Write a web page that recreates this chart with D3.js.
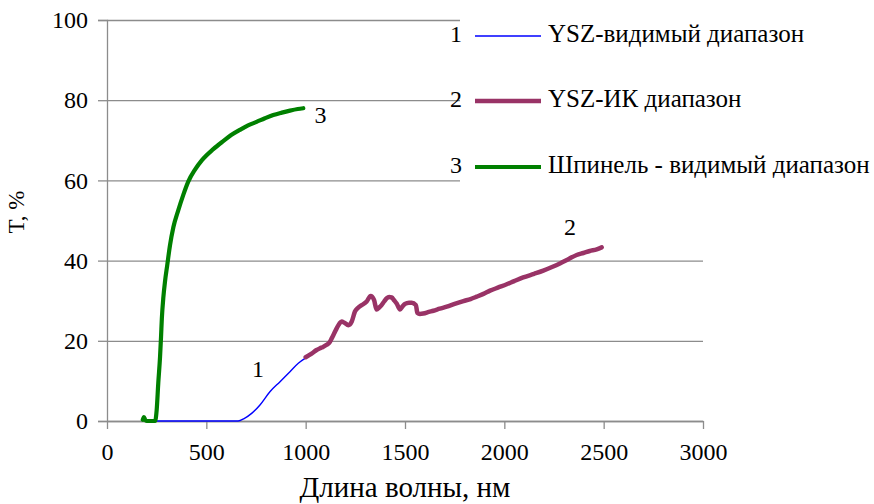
<!DOCTYPE html>
<html>
<head>
<meta charset="utf-8">
<script src="https://cdn.jsdelivr.net/npm/d3@7"></script>
<style>
  body { margin: 0; background: #fff; }
  svg { display: block; }
  svg text { font-family: "Times New Roman", "Liberation Serif", "DejaVu Serif", serif !important; }
</style>
</head>
<body>
<svg id="chart" width="874" height="504"></svg>
<script>
// ---- data ----
const seriesNames = ["YSZ-видимый диапазон", "YSZ-ИК диапазон", "Шпинель - видимый диапазон"];
const seriesNumbers = ["1", "2", "3"];
const seriesColors = ["#0000ff", "#993366", "#008000"];

const ysz_vis_wl = [250, 300, 400, 500, 600, 660, 690, 728, 770, 820, 871, 921, 963, 997];
const ysz_vis_T  = [0, 0, 0, 0, 0, 0, 0.6, 1.9, 4, 7.3, 9.8, 12.3, 14.4, 15.6];

const ysz_ir_wl = [1000,1030,1055,1080,1106,1120,1131,1145,1156,1170,1181,1195,1215,1232,1248,1265,1282,1307,1327,1344,1357,1370,1382,1395,1408,1420,1433,1445,1458,1475,1488,1500,1520,1534,1555,1562,1575,1592,1620,1643,1675,1710,1750,1794,1830,1861,1895,1928,1970,2012,2050,2095,2150,2196,2240,2280,2320,2364,2398,2430,2465,2490];
const ysz_ir_T  = [15.9,16.8,17.7,18.3,19,19.6,20.6,22,23.1,24.3,24.8,24.5,23.9,24.8,27.3,28.3,28.9,29.8,31.2,30.2,27.8,28.3,28.9,29.8,30.6,30.9,30.8,30.1,29.3,27.8,28.6,29.2,29.5,29.5,28.9,27,26.7,26.8,27.2,27.5,28,28.5,29.2,29.9,30.4,31,31.7,32.5,33.3,34.1,34.9,35.8,36.7,37.5,38.4,39.3,40.3,41.4,41.9,42.4,42.8,43.3];

const spinel_wl = [180,186,192,200,242,250,258,267,272,276,284,292,303,317,334,359,384,409,443,477,535,585,625,669,710,753,795,837,880,921,960,988];
const spinel_T  = [0.3,1,0.3,0,0,2.7,9.4,16,21,25.5,31,34.8,38.8,43.8,48.3,52.6,56.4,59.7,62.7,65,67.8,69.8,71.3,72.6,73.7,74.6,75.5,76.3,76.9,77.4,77.8,78];

const xTicks = [0, 500, 1000, 1500, 2000, 2500, 3000];
const yTicks = [0, 20, 40, 60, 80, 100];
const xTitle = "Длина волны, нм";
const yTitle = "T, %";

// curve-label anchors (data coordinates)
const curveLabelText = ["1", "2", "3"];
const curveLabelWl = [760, 2330, 1075];
const curveLabelT  = [12.3, 47.8, 75.6];

// ---- drawing ----
const svg = d3.select("#chart");
const x = d3.scaleLinear().domain([0, 3000]).range([107, 703]);
const y = d3.scaleLinear().domain([0, 100]).range([421, 20]);
const grey = "#8c8c8c";
const fontSize = 24;
const fam = '"Times New Roman", "Liberation Serif", "DejaVu Serif", serif';

// gridlines
const gy = svg.append("g").attr("transform", `translate(${x(0)},0)`)
  .call(d3.axisLeft(y).tickValues(yTicks).tickSize(-(x(3000) - x(0))).tickFormat(""));
gy.select(".domain").remove();
gy.selectAll(".tick line").attr("stroke", grey).attr("stroke-width", 1.3);

// y axis with outer ticks and labels
const ya = svg.append("g").attr("transform", `translate(${x(0)},0)`)
  .call(d3.axisLeft(y).tickValues(yTicks).tickSize(9).tickPadding(10).tickFormat(d3.format("d")));
ya.attr("font-family", fam);
ya.select(".domain").attr("stroke", grey).attr("stroke-width", 1.3);
ya.selectAll(".tick line").attr("stroke", grey).attr("stroke-width", 1.3);
ya.selectAll(".tick text").attr("font-size", fontSize).attr("fill", "#000");

// x axis
const xa = svg.append("g").attr("transform", `translate(0,${y(0)})`)
  .call(d3.axisBottom(x).tickValues(xTicks).tickSize(8).tickPadding(14).tickSizeOuter(0).tickFormat(d3.format("d")));
xa.attr("font-family", fam);
xa.select(".domain").attr("stroke", grey).attr("stroke-width", 1.3);
xa.selectAll(".tick line").attr("stroke", grey).attr("stroke-width", 1.3);
xa.selectAll(".tick text").attr("font-size", fontSize).attr("fill", "#000");

// legend background box covering gridlines
svg.append("rect").attr("x", 460).attr("y", 0).attr("width", 414).attr("height", 200).attr("fill", "#fff");

// series
const line = d3.line().x(d => x(d[0])).y(d => y(d[1])).curve(d3.curveMonotoneX);
const series = [
  { wl: ysz_vis_wl, T: ysz_vis_T, width: 1.4 },
  { wl: ysz_ir_wl, T: ysz_ir_T, width: 4.5 },
  { wl: spinel_wl, T: spinel_T, width: 4.2 }
];
series.forEach((s, i) => {
  svg.append("path")
    .attr("d", line(s.wl.map((w, k) => [w, s.T[k]])))
    .attr("fill", "none")
    .attr("stroke", seriesColors[i])
    .attr("stroke-width", s.width)
    .attr("stroke-linejoin", "round")
    .attr("stroke-linecap", "round");
});

// curve labels
curveLabelText.forEach((t, i) => {
  svg.append("text")
    .attr("x", x(curveLabelWl[i])).attr("y", y(curveLabelT[i]))
    .attr("text-anchor", "middle").attr("dominant-baseline", "middle")
    .attr("font-size", fontSize).attr("fill", "#000").text(t);
});

// legend
const legendY = [36, 101, 167];
seriesNames.forEach((name, i) => {
  const g = svg.append("g").attr("transform", `translate(0,${legendY[i]})`);
  g.append("text").attr("x", 456).attr("y", 0).attr("text-anchor", "middle")
    .attr("dominant-baseline", "middle").attr("font-size", fontSize).text(seriesNumbers[i]);
  g.append("line").attr("x1", 475).attr("x2", 541).attr("y1", 0).attr("y2", 0)
    .attr("stroke", seriesColors[i]).attr("stroke-width", series[i].width);
  g.append("text").attr("x", 548).attr("y", 0).attr("dominant-baseline", "middle")
    .attr("font-size", 25).text(name);
});

// axis titles
svg.append("text").attr("x", 405).attr("y", 497).attr("text-anchor", "middle")
  .attr("font-size", 29).text(xTitle);
svg.append("text").attr("transform", "translate(24,212) rotate(-90)").attr("text-anchor", "middle")
  .attr("font-size", 23).text(yTitle);
</script>
</body>
</html>
